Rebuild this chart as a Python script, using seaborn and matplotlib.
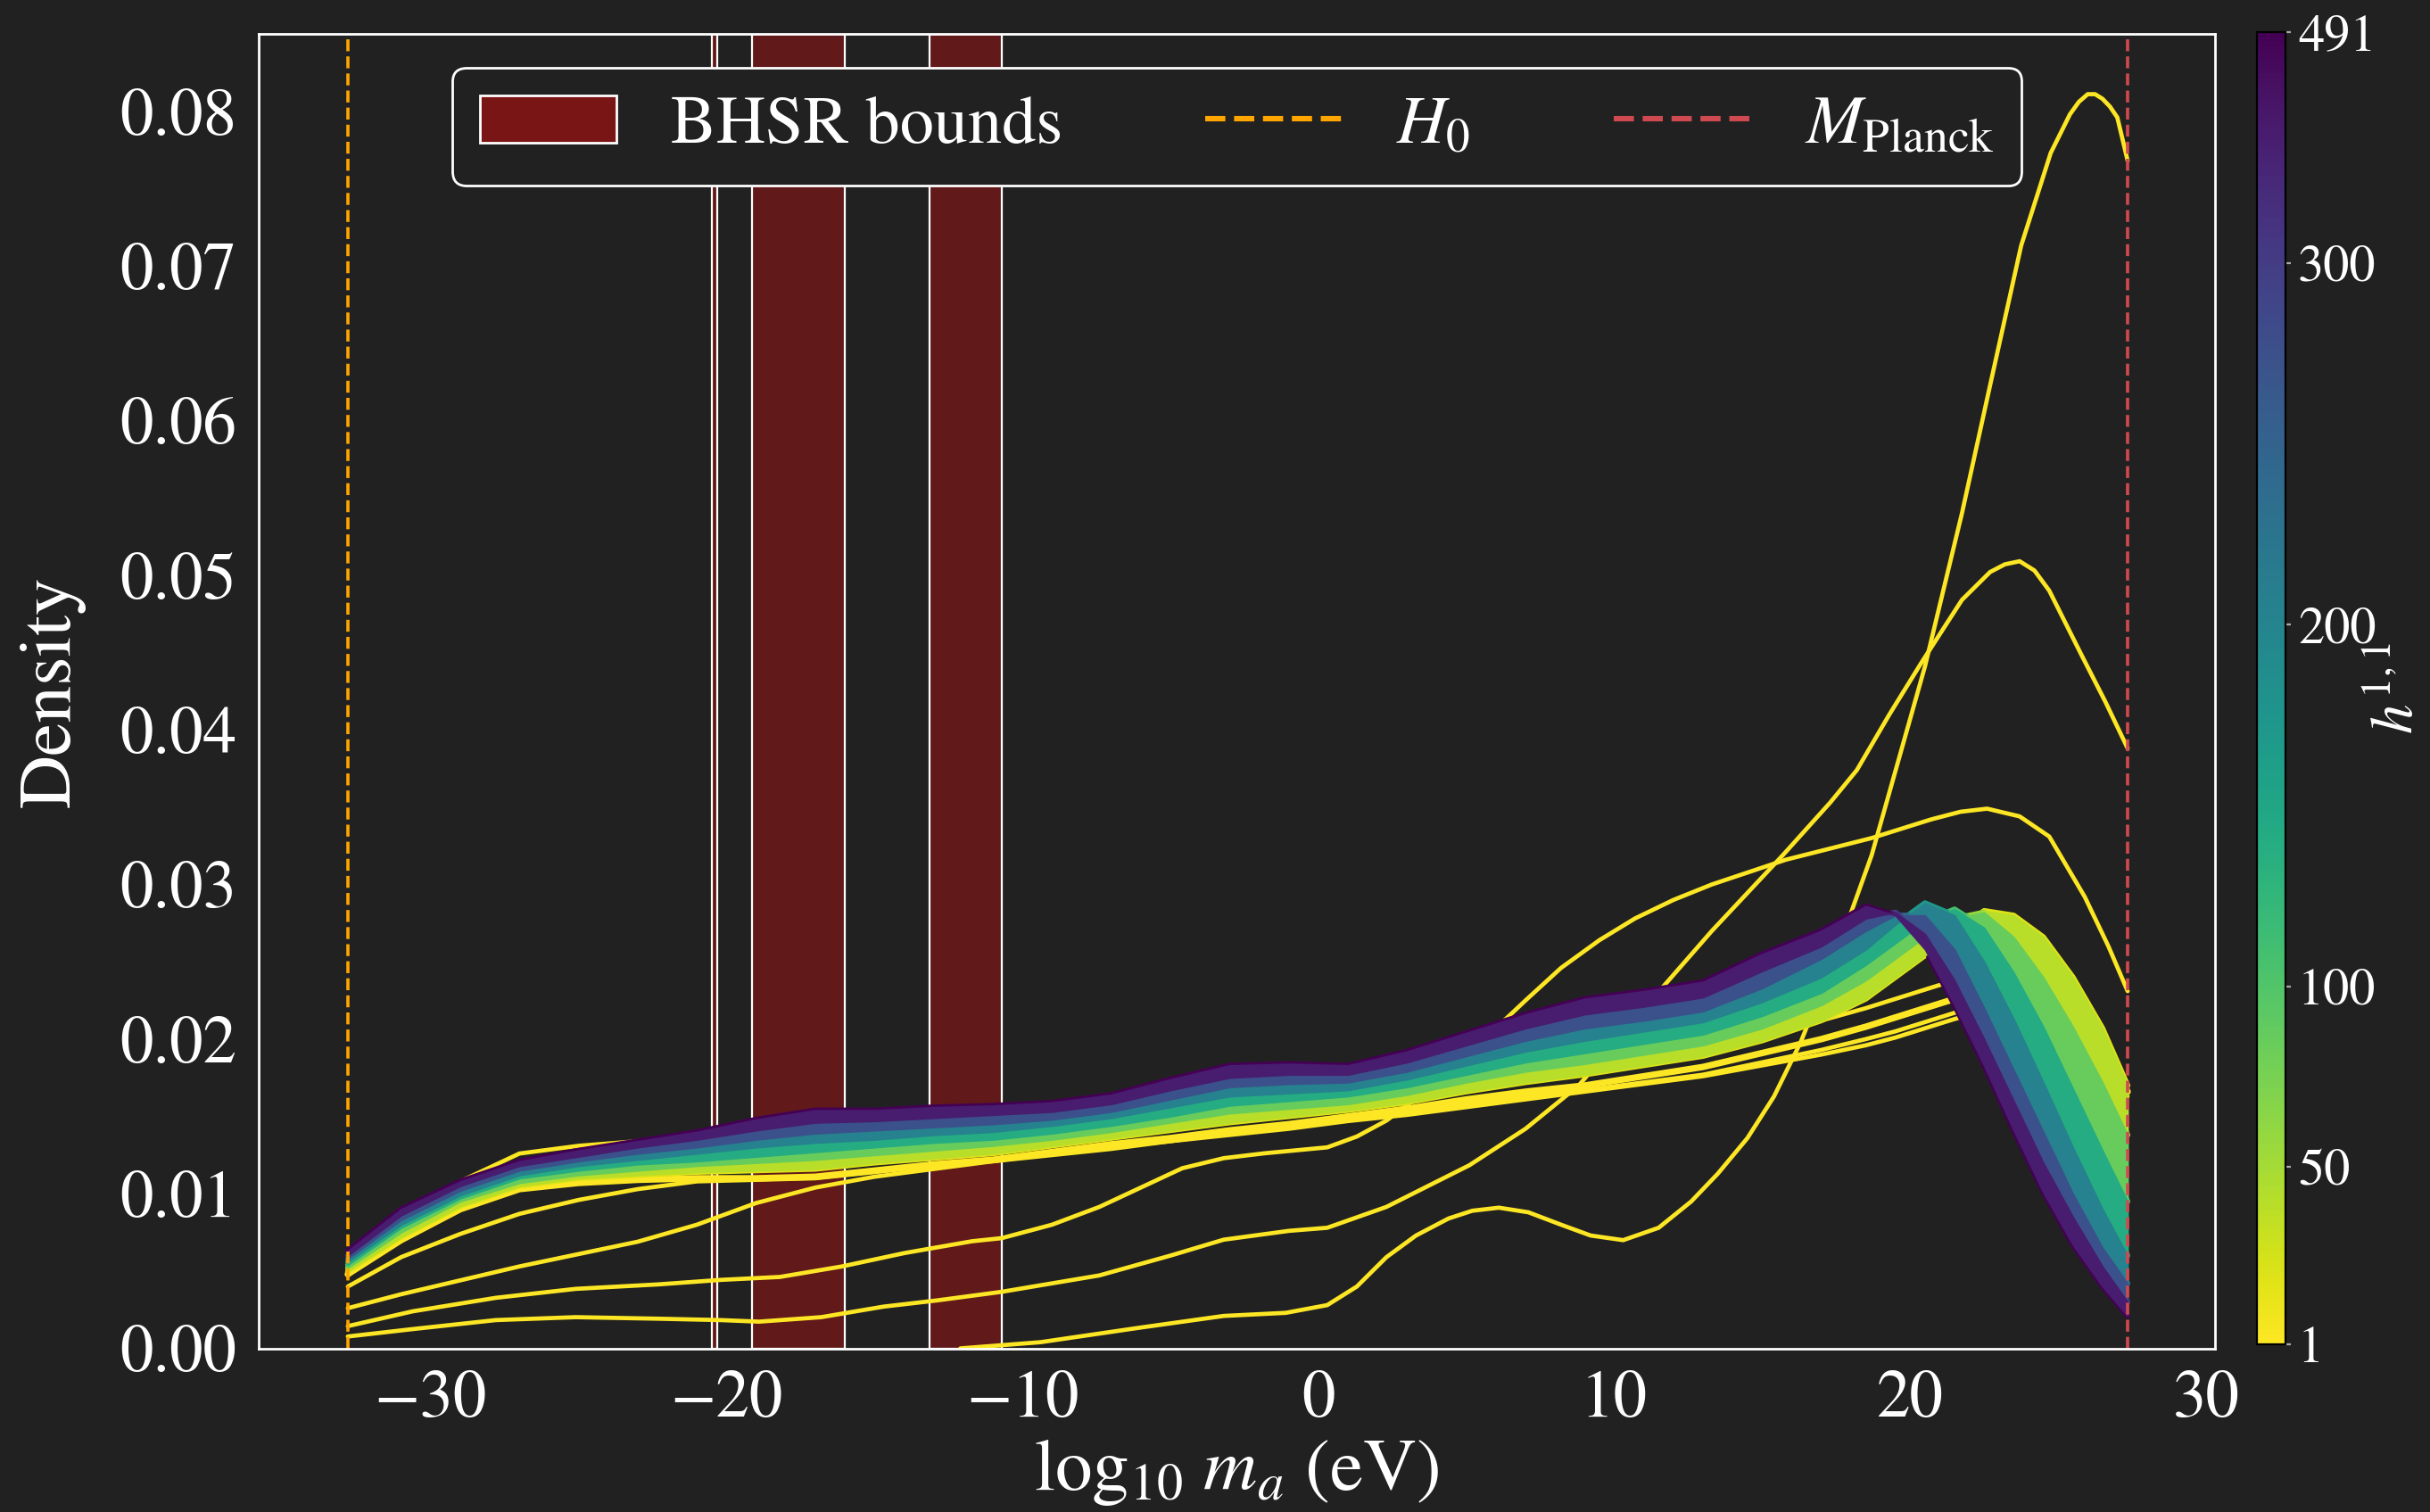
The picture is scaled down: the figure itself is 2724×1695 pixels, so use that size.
import numpy as np
import matplotlib
matplotlib.use("Agg")
import matplotlib.pyplot as plt
import seaborn as sns
from matplotlib.colors import FuncNorm
from matplotlib.cm import ScalarMappable
from matplotlib.patches import Patch
from matplotlib.lines import Line2D
from matplotlib.ticker import FormatStrFormatter

# ---------------- data ----------------
H0_LOG = -32.8          # log10(H0 / eV)
MPLANCK_LOG = 27.35     # log10(M_Planck / eV)
BHSR_LO = [-20.50, -19.15, -13.15]
BHSR_HI = [-20.33, -16.00, -10.70]

CB_TICKS = [1, 50, 100, 200, 300, 491]
CB_POS_H = [1, 300, 491]          # colour-bar is spaced by rank of h11 values
CB_POS_P = [0.0, 0.824, 1.0]

# common x grid of the bundle of KDE curves
X_GRID = [-32.8, -31, -29, -27, -25, -23, -21, -19, -17, -15, -13, -11, -9, -7, -5,
          -3, -1, 1, 3, 5, 7, 9, 11, 13, 15, 17, 18.5, 19.5, 20.5, 21.5, 22.5, 23.5,
          24.5, 25.5, 26.5, 27.35]

BAND_H11 = [20, 60, 110, 170, 240, 320, 491]
KDE_H20 = [.0050, .0072, .0092, .0105, .0110, .0112, .0114, .0115, .0116, .0120, .0123, .0126,
           .0131, .0136, .0141, .0146, .0150, .0154, .0159, .0166, .0172, .0177, .0183, .0189,
           .0199, .0212, .0226, .0240, .0254, .0268, .0283, .0280, .0266, .0240, .0207, .0170]
KDE_H60 = [.0052, .0075, .0095, .0107, .0112, .0115, .0118, .0120, .0122, .0125, .0128, .0131,
           .0135, .0140, .0146, .0152, .0155, .0158, .0164, .0172, .0179, .0184, .0190, .0196,
           .0207, .0222, .0238, .0252, .0266, .0278, .0282, .0266, .0240, .0208, .0172, .0138]
KDE_H110 = [.0054, .0078, .0097, .0110, .0115, .0119, .0121, .0124, .0127, .0130, .0133, .0135,
            .0139, .0144, .0150, .0157, .0160, .0163, .0169, .0177, .0185, .0191, .0197, .0203,
            .0215, .0230, .0248, .0262, .0276, .0284, .0272, .0243, .0208, .0168, .0128, .0095]
KDE_H170 = [.0056, .0080, .0099, .0112, .0118, .0122, .0126, .0130, .0133, .0135, .0138, .0140,
            .0144, .0149, .0156, .0163, .0165, .0167, .0174, .0183, .0192, .0199, .0205, .0211,
            .0224, .0240, .0258, .0274, .0288, .0280, .0250, .0213, .0172, .0130, .0090, .0060]
KDE_H240 = [.0058, .0083, .0102, .0115, .0121, .0126, .0130, .0135, .0139, .0141, .0143, .0145,
            .0148, .0153, .0161, .0169, .0171, .0172, .0179, .0189, .0199, .0207, .0212, .0218,
            .0233, .0252, .0270, .0280, .0280, .0258, .0220, .0180, .0140, .0100, .0065, .0042]
KDE_H320 = [.0060, .0086, .0105, .0118, .0124, .0130, .0135, .0141, .0146, .0147, .0149, .0151,
            .0153, .0158, .0167, .0175, .0177, .0177, .0185, .0196, .0207, .0216, .0221, .0227,
            .0244, .0260, .0278, .0282, .0268, .0238, .0200, .0160, .0120, .0085, .0053, .0030]
KDE_H491 = [.0063, .0090, .0108, .0121, .0128, .0134, .0140, .0148, .0154, .0154, .0156, .0157,
            .0159, .0164, .0174, .0183, .0184, .0183, .0192, .0204, .0216, .0226, .0231, .0237,
            .0255, .0270, .0286, .0280, .0258, .0222, .0183, .0141, .0101, .0067, .0040, .0021]

# small-h11 (yellow) curves sharing the grid
KDE_LOW_BOTTOM = [.0048, .0070, .0090, .0103, .0107, .0109, .0110, .0110, .0111, .0115, .0119, .0122,
                  .0127, .0132, .0136, .0141, .0145, .0150, .0155, .0161, .0166, .0170, .0176, .0182,
                  .0191, .0200, .0208, .0214, .0220, .0226, .0230, .0229, .0220, .0205, .0185, .0166]
KDE_LOW_TOP = [.0047, .0078, .0108, .0126, .0131, .0134, .0134, .0132, .0131, .0131, .0133, .0135,
               .0138, .0142, .0146, .0150, .0153, .0157, .0162, .0168, .0174, .0180, .0186, .0192,
               .0202, .0212, .0220, .0226, .0232, .0238, .0240, .0236, .0226, .0210, .0190, .0168]
KDE_LOW_A = [.0040, .0059, .0074, .0087, .0096, .0103, .0108, .0109, .0110, .0114, .0118, .0121,
             .0126, .0130, .0134, .0139, .0143, .0148, .0153, .0158, .0163, .0167, .0172, .0177,
             .0185, .0193, .0200, .0205, .0211, .0217, .0221, .0220, .0212, .0198, .0180, .0163]
KDE_LOW_B = [.0026, .0035, .0044, .0053, .0061, .0069, .0080, .0094, .0104, .0111, .0116, .0121,
             .0125, .0129, .0134, .0138, .0142, .0147, .0151, .0156, .0161, .0166, .0171, .0176,
             .0183, .0190, .0196, .0201, .0207, .0213, .0218, .0218, .0212, .0200, .0183, .0166]

# outlier curves (h11 = 1 geometries)
OUT1_X = [-12.1, -9.4, -6.0, -3.2, -1.1, 0.3, 1.3, 2.3, 3.3, 4.4, 5.2, 6.1, 7.1, 8.2, 9.2,
          10.3, 11.5, 12.6, 13.5, 14.5, 15.4, 16.3, 17.5, 18.7, 19.6, 20.5, 21.75, 22.75, 23.75,
          24.75, 25.4, 25.7, 26.0, 26.25, 26.5, 26.75, 27.0, 27.35]
OUT1_Y = [0.0, .0004, .00135, .0021, .0023, .0028, .0040, .0059, .0073, .0084, .0089, .0091,
          .0088, .0080, .0073, .0070, .0078, .0095, .0113, .0136, .0163, .0198, .0255, .0319, .0380,
          .0441, .0540, .0627, .0713, .0773, .0798, .0806, .0811, .0811, .0808, .0803, .0796, .0768]
OUT2_X = [-32.8, -30.6, -27.8, -25.1, -22.3, -20.2, -18.9, -16.8, -14.7, -12.9, -10.7, -7.4, -5.0,
          -3.2, -1.0, 0.3, 2.3, 5.1, 7.0, 8.8, 11.2, 13.3, 15.7, 17.3, 18.2, 19.3, 20.4, 21.75,
          22.7, 23.2, 23.7, 24.2, 24.7, 25.8, 26.6, 27.35]
OUT2_Y = [.00077, .00125, .00183, .00202, .00192, .00183, .00173, .00202, .0027, .0031, .00366,
          .00472, .0060, .00703, .0076, .0078, .00915, .01184, .0142, .0170, .0224, .0270, .0319,
          .0353, .0374, .0410, .0444, .0484, .0502, .0507, .0509, .0503, .0490, .0448, .0418, .0388]
OUT3_X = [-32.8, -30.6, -27.8, -25.1, -22.3, -20.2, -18.2, -16.1, -14.0, -11.7, -10.7, -9.0, -7.4,
          -6.0, -4.6, -3.2, -1.8, 0.3, 1.3, 2.3, 2.7, 4.0, 5.5, 7.0, 8.2, 9.5, 10.7, 12.0, 13.3,
          15.8, 18.7, 20.7, 21.7, 22.6, 23.7, 24.7, 25.9, 26.7, 27.35]
OUT3_Y = [.00144, .0024, .00327, .00385, .00414, .00443, .00462, .0053, .00616, .00693, .00713,
          .0080, .00915, .0104, .01165, .0123, .01262, .0130, .0137, .01473, .0153, .0172, .0198,
          .0225, .0246, .0264, .0278, .0290, .0300, .0316, .0330, .0342, .0347, .0349, .0344, .0331,
          .0292, .0260, .0231]

# ---------------- style ----------------
BG = "#212121"
sns.set_theme(style="dark")
plt.rcParams.update({
    "font.family": ["STIXGeneral", "DejaVu Sans"],
    "mathtext.fontset": "stix",
    "figure.facecolor": BG, "axes.facecolor": BG, "savefig.facecolor": BG,
    "text.color": "white", "axes.labelcolor": "white",
    "xtick.color": "white", "ytick.color": "white",
    "axes.edgecolor": "white", "axes.grid": False,
})

cmap = plt.get_cmap("viridis_r")


def fwd(v):
    return np.interp(v, CB_POS_H, CB_POS_P)


def inv(p):
    return np.interp(p, CB_POS_P, CB_POS_H)


norm = FuncNorm((fwd, inv), vmin=1, vmax=491)

fig = plt.figure(figsize=(13.62, 8.475), dpi=200)
ax = fig.add_axes([0.1066, 0.1082, 0.8049, 0.8694])
ax.set_facecolor(BG)

# BHSR bounds
for lo, hi in zip(BHSR_LO, BHSR_HI):
    ax.axvspan(lo, hi, facecolor="#621919", edgecolor="white", linewidth=0.8, zorder=1)

yellow = cmap(norm(1))
LW = 1.7
for ys in [KDE_LOW_TOP, KDE_LOW_A, KDE_LOW_B]:
    sns.lineplot(x=X_GRID, y=ys, color=yellow, linewidth=LW, ax=ax, zorder=2)
for xs, ys in [(OUT1_X, OUT1_Y), (OUT2_X, OUT2_Y), (OUT3_X, OUT3_Y)]:
    sns.lineplot(x=xs, y=ys, color=yellow, linewidth=LW, ax=ax, zorder=2)
sns.lineplot(x=X_GRID, y=KDE_LOW_BOTTOM, color=yellow, linewidth=2.6, ax=ax, zorder=2.3)

band = [KDE_H20, KDE_H60, KDE_H110, KDE_H170, KDE_H240, KDE_H320, KDE_H491]
xg = np.array(X_GRID)
for h, ys in zip(BAND_H11, band):
    sns.lineplot(x=X_GRID, y=ys, color=cmap(norm(h)), linewidth=2.2, ax=ax, zorder=2.4)
for i in range(len(band) - 1):
    c = cmap((norm(BAND_H11[i]) + norm(BAND_H11[i + 1])) / 2)
    ax.fill_between(xg, band[i], band[i + 1], facecolor=c, edgecolor=c, linewidth=0.6,
                    zorder=2.5)

ax.axvline(H0_LOG, color="orange", ls="--", lw=1.3, zorder=3)
ax.axvline(MPLANCK_LOG, color="#cf4a50", ls="--", lw=1.3, zorder=3)

ax.set_xlim(-35.8, 30.3)
ax.set_ylim(0, 0.0850)
ax.set_xticks([-30, -20, -10, 0, 10, 20, 30])
ax.set_yticks(np.arange(0, 0.081, 0.01))
ax.yaxis.set_major_formatter(FormatStrFormatter("%.2f"))
ax.tick_params(axis="both", length=0, labelsize=27, pad=9, colors="white")
ax.set_xlabel(r"$\log_{10}\, m_a$ (eV)", fontsize=30, labelpad=2)
ax.set_ylabel("Density", fontsize=30, labelpad=14)
for s in ax.spines.values():
    s.set_color("white")
    s.set_linewidth(1.0)
    s.set_zorder(4)

handles = [Patch(facecolor="#7a1515", edgecolor="white", linewidth=1.0),
           Line2D([0], [0], color="orange", ls="--", lw=2.2),
           Line2D([0], [0], color="#cf4a50", ls="--", lw=2.2)]
leg = ax.legend(handles, ["BHSR bounds", r"$H_0$", r"$M_{\rm Planck}$"], ncol=3,
                loc="upper center", fontsize=27.5, frameon=True, facecolor=BG,
                edgecolor="white", framealpha=1.0, fancybox=True, columnspacing=2.1)
leg.set_zorder(10)
leg.get_frame().set_linewidth(1.0)

cax = fig.add_axes([0.9288, 0.1109, 0.01175, 0.8679])
sm = ScalarMappable(norm=norm, cmap=cmap)
cb = fig.colorbar(sm, cax=cax, ticks=CB_TICKS)
cb.ax.set_yticklabels([str(t) for t in CB_TICKS])
cb.ax.tick_params(labelsize=21, length=2, width=0.8, color="#aaaaaa", pad=3, labelcolor="white")
cb.outline.set_edgecolor("black")
cb.outline.set_linewidth(0.8)
cb.set_label(r"$h^{1,1}$", fontsize=24, color="white", labelpad=-2)

fig.savefig("out.png", dpi=200, facecolor=BG)
